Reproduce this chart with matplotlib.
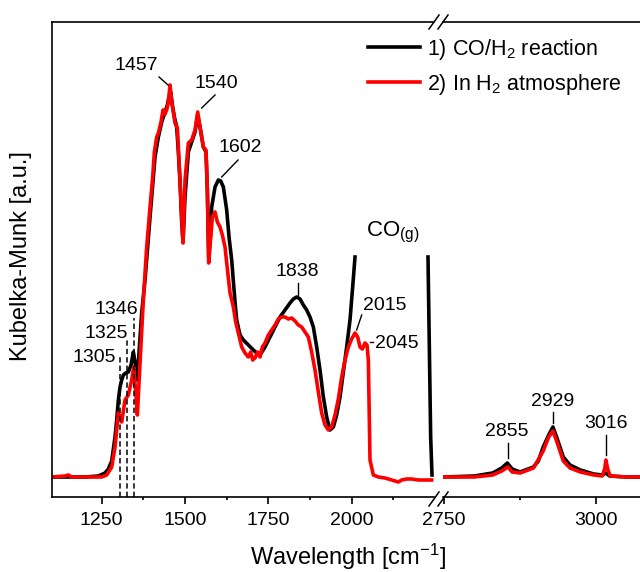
import numpy as np
import matplotlib
matplotlib.use("Agg")
from matplotlib import pyplot as plt
from matplotlib.lines import Line2D

plt.rcParams['font.family'] = ['Liberation Sans', 'DejaVu Sans']
plt.rcParams['mathtext.fontset'] = 'custom'
plt.rcParams['mathtext.rm'] = 'Liberation Sans'
plt.rcParams['mathtext.it'] = 'Liberation Sans:italic'
plt.rcParams['mathtext.bf'] = 'Liberation Sans:bold'

nan = np.nan

# --- low wavenumber part (1100 - 2250 cm-1) ---
wn_black_low = [1100, 1150, 1200, 1240, 1260, 1270, 1280, 1290, 1295, 1300, 1305, 1310, 1315, 1322,
                1330, 1338, 1345, 1350, 1357, 1363, 1370, 1380, 1395, 1405, 1410, 1420, 1430, 1440,
                1447, 1452, 1457, 1462, 1468, 1475, 1480, 1485, 1490, 1494, 1500, 1510, 1520, 1530,
                1538, 1545, 1555, 1563, 1567, 1571, 1576, 1580, 1590, 1600, 1607, 1615, 1625, 1632,
                1640, 1650, 1655, 1665, 1675, 1690, 1705, 1715, 1725, 1740, 1755, 1770, 1785, 1800,
                1815, 1825, 1835, 1845, 1855, 1865, 1875, 1885, 1895, 1905, 1915, 1925, 1935, 1945,
                1955, 1965, 1975, 1985, 1995, 2003, 2010, 2100, 2229, 2233, 2237, 2241]
km_black_low = [20, 20, 20, 21, 24, 28, 36, 60, 77, 97, 110, 117, 122, 124,
                125, 132, 145, 135, 117, 150, 184, 217, 280, 320, 340, 360, 375, 385,
                392, 400, 405, 392, 380, 370, 345, 315, 275, 255, 300, 345, 355, 365,
                382, 370, 350, 345, 307, 240, 260, 290, 310, 317, 316, 310, 287, 260,
                237, 195, 177, 162, 157, 152, 147, 144, 142, 150, 160, 170, 180, 187,
                194, 198, 200, 198, 192, 187, 180, 170, 150, 127, 100, 80, 67, 70,
                82, 100, 125, 150, 177, 210, 240, nan, 240, 150, 60, 22]

wn_red_low = [1100, 1140, 1150, 1160, 1200, 1250, 1265, 1280, 1290, 1300, 1305, 1310, 1320, 1330,
              1340, 1346, 1352, 1357, 1365, 1375, 1385, 1395, 1403, 1408, 1415, 1420, 1428, 1434,
              1440, 1445, 1450, 1455, 1460, 1465, 1470, 1477, 1485, 1490, 1494, 1500, 1510, 1520,
              1530, 1538, 1545, 1555, 1563, 1567, 1571, 1576, 1582, 1590, 1597, 1605, 1612, 1620,
              1628, 1635, 1645, 1652, 1660, 1670, 1680, 1690, 1697, 1703, 1710, 1718, 1725, 1732,
              1740, 1750, 1760, 1770, 1780, 1790, 1800, 1810, 1820, 1830, 1840, 1850, 1860, 1870,
              1880, 1890, 1900, 1910, 1920, 1930, 1940, 1950, 1960, 1970, 1980, 1990, 2000, 2010,
              2018, 2025, 2032, 2040, 2046, 2050, 2055, 2065, 2080, 2100, 2120, 2140, 2150, 2165,
              2180, 2200, 2240]
km_red_low = [20, 21, 22, 20, 20, 20, 22, 30, 50, 84, 80, 75, 97, 102,
              117, 130, 105, 82, 134, 197, 250, 290, 320, 345, 360, 364, 375, 387,
              383, 387, 395, 412, 395, 385, 374, 369, 317, 280, 254, 317, 354, 357,
              367, 385, 370, 350, 347, 307, 234, 255, 280, 285, 275, 270, 262, 250,
              225, 204, 190, 175, 164, 150, 144, 140, 145, 137, 139, 145, 140, 150,
              154, 162, 167, 172, 178, 180, 180, 178, 179, 176, 172, 170, 165, 160,
              145, 127, 105, 84, 72, 67, 70, 82, 98, 120, 137, 150, 158, 164,
              160, 150, 148, 154, 152, 137, 37, 22, 20, 19, 17, 15, 17, 18,
              18, 17, 17]

# --- high wavenumber part (2750 - 3070 cm-1) ---
wn_black_high = [2750, 2800, 2830, 2845, 2854, 2862, 2875, 2897, 2905, 2913, 2922, 2929, 2935,
                 2946, 2957, 2974, 2996, 3010, 3016, 3022, 3050, 3075]
km_black_high = [20, 21, 24, 29, 34, 28, 25, 30, 36, 50, 62, 70, 60,
                 40, 32, 27, 23, 22, 24, 21, 20, 20]

wn_red_high = [2750, 2800, 2830, 2845, 2855, 2862, 2875, 2897, 2913, 2922, 2929, 2935, 2946,
               2957, 2974, 2996, 3010, 3014, 3016, 3019, 3023, 3050, 3075]
km_red_high = [20, 20, 22, 26, 30, 25, 24, 29, 46, 60, 66, 56, 36,
               29, 25, 22, 21, 28, 37, 28, 21, 20, 20]

labels = ["1) CO/H$_2$ reaction", "2) In H$_2$ atmosphere"]
W, H = 640, 572


def fx(px):
    return px / W


def fy(py):
    return 1 - py / H


fig = plt.figure(figsize=(6.4, 5.72), dpi=100)
ax1 = fig.add_axes([fx(51.7), fy(497), fx(434) - fx(51.7), fy(22) - fy(497)])
ax2 = fig.add_axes([fx(443), fy(497), 1 - fx(443), fy(22) - fy(497)])

lw = 2.6
ax1.plot(wn_black_low, km_black_low, color='black', lw=lw)
ax1.plot(wn_red_low, km_red_low, color='#ff0000', lw=lw)
ax2.plot(wn_black_high, km_black_high, color='black', lw=lw)
ax2.plot(wn_red_high, km_red_high, color='#ff0000', lw=lw)

ax1.set_xlim(1100, 2247)
ax2.set_xlim(2748.4, 3072)
for ax in (ax1, ax2):
    ax.set_ylim(0, 475)
    ax.set_yticks([])
    for s in ax.spines.values():
        s.set_linewidth(1.2)
    ax.tick_params(axis='x', which='major', direction='out', length=5, width=1.2,
                   labelsize=14, pad=6)
    ax.tick_params(axis='x', which='minor', direction='out', length=2.5, width=1.2)
ax1.spines['right'].set_visible(False)
ax2.spines['left'].set_visible(False)
ax2.spines['right'].set_visible(False)
ax1.set_xticks([1250, 1500, 1750, 2000])
ax1.set_xticks([1375, 1625, 1875, 2125], minor=True)
ax2.set_xticks([2750, 3000])
ax2.set_xticks([2875], minor=True)

# break marks
for cx in (434, 443):
    for cy in (22, 499):
        fig.add_artist(Line2D([fx(cx - 5), fx(cx + 5)], [fy(cy + 7), fy(cy - 7)],
                              color='black', lw=1.1, transform=fig.transFigure))

# dashed marker lines
dash = (0, (3.5, 2))
for x0, ytop in [(1305, 142), (1325, 157), (1346, 179)]:
    ax1.plot([x0, x0], [0, ytop], color='black', lw=1.1, ls=dash)

fs = 14
ax1.text(1359, 188, "1346", fontsize=fs, ha='right', va='center')
ax1.text(1329, 164, "1325", fontsize=fs, ha='right', va='center')
ax1.text(1293, 139, "1305", fontsize=fs, ha='right', va='center')

# peak labels with leader lines
ax1.plot([1422, 1449], [420, 412], color='black', lw=1)
ax1.text(1353, 431, "1457", fontsize=fs, ha='center', va='center')
ax1.plot([1590, 1550], [402, 389], color='black', lw=1)
ax1.text(1593, 413, "1540", fontsize=fs, ha='center', va='center')
ax1.plot([1659, 1610], [337, 320], color='black', lw=1)
ax1.text(1665, 349, "1602", fontsize=fs, ha='center', va='center')
ax1.plot([1838, 1838], [214, 202], color='black', lw=1)
ax1.text(1836, 225, "1838", fontsize=fs, ha='center', va='center')
ax1.plot([2030, 2015], [182, 167], color='black', lw=1)
ax1.text(2100, 192, "2015", fontsize=fs, ha='center', va='center')
ax1.plot([2054, 2063], [155, 155], color='black', lw=1)
ax1.text(2070, 154, "2045", fontsize=fs, ha='left', va='center')
ax1.text(2043, 265, "CO$_{\\rm (g)}$", fontsize=16, ha='left', va='center')

ax2.plot([2855, 2855], [54, 39], color='black', lw=1)
ax2.text(2853, 65, "2855", fontsize=fs, ha='center', va='center')
ax2.plot([2929, 2929], [85, 74], color='black', lw=1)
ax2.text(2928, 96, "2929", fontsize=fs, ha='center', va='center')
ax2.plot([3016, 3016], [62, 42], color='black', lw=1)
ax2.text(3016, 73, "3016", fontsize=fs, ha='center', va='center')

handles = [Line2D([], [], color='black', lw=lw), Line2D([], [], color='#ff0000', lw=lw)]
fig.legend(handles, labels, loc='upper left', bbox_to_anchor=(fx(368), fy(37)),
           frameon=False, fontsize=15.5, handlelength=2.4, handletextpad=0.35,
           labelspacing=0.45, borderpad=0, borderaxespad=0)

fig.text(fx(348), fy(565), "Wavelength [cm$^{-1}$]", fontsize=17, ha='center', va='baseline')
fig.text(fx(21), fy(256), "Kubelka-Munk [a.u.]", fontsize=17, ha='center', va='center',
         rotation=90)

fig.savefig("out.png", dpi=100)
